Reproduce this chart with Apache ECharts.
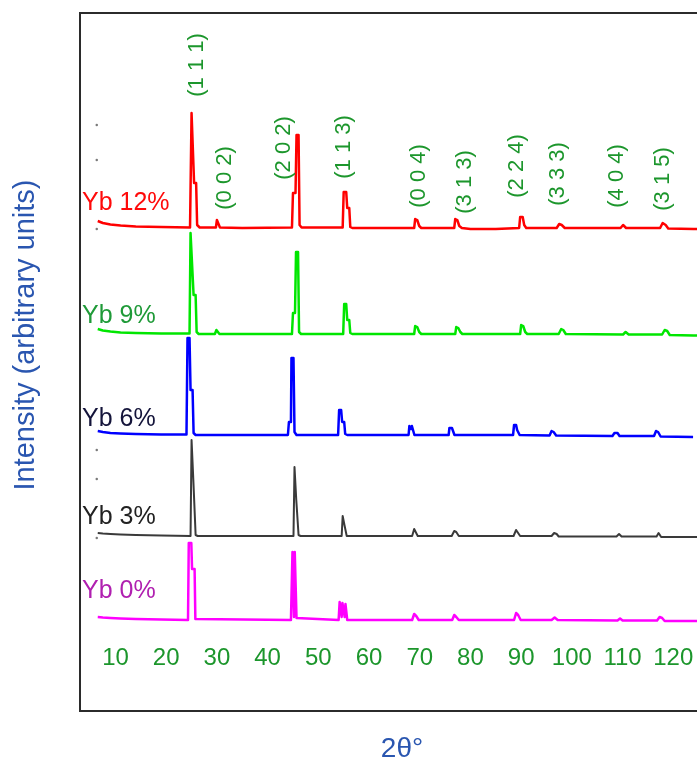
<!DOCTYPE html>
<html>
<head>
<meta charset="utf-8">
<script src="https://cdn.jsdelivr.net/npm/echarts@6/dist/echarts.min.js"></script>
<style>
  html, body { margin: 0; padding: 0; background: #fff; }
  #main { width: 697px; height: 762px; }
</style>
</head>
<body>
<div id="main"></div>
<script>
// XRD patterns of Yb-doped samples, stacked with a vertical offset per sample.
const samples = ['Yb 12%', 'Yb 9%', 'Yb 6%', 'Yb 3%', 'Yb 0%'];
const offsets = [483, 377, 276, 175, 91];
const xTicks = [10, 20, 30, 40, 50, 60, 70, 80, 90, 100, 110, 120];

// [2θ, intensity above the sample's own baseline]
const yb12 = [
  [6.5, 7], [7.5, 5], [9, 3.5], [11, 2.5], [14, 1.5], [19, 1], [24.7, 0.5],
  [25.0, 115], [25.3, 115], [25.5, 45], [25.9, 45], [26.1, 3], [26.6, 0.5],
  [29.8, 0.5], [30.0, 8], [30.3, 8], [30.6, 0.5],
  [35, 0], [44.8, 0.5], [45.0, 35], [45.5, 35], [45.7, 93], [46.1, 93], [46.3, 3], [46.7, 0.5],
  [54.8, 0.5], [55.0, 36], [55.5, 36], [55.7, 20], [56.1, 20], [56.3, 1], [56.7, 0],
  [68.9, 0], [69.1, 9], [69.5, 8], [69.9, 2], [70.3, 0],
  [76.8, 0], [77.0, 9], [77.4, 8], [77.8, 2], [78.3, 0], [80, -1], [85, -1],
  [89.6, 0], [89.8, 11], [90.3, 11], [90.6, 3], [91.0, 0],
  [97.0, 0], [97.5, 4], [98.0, 3], [98.6, 0],
  [109.6, 0], [110.1, 3], [110.7, 0],
  [117.4, 0], [117.9, 5], [118.5, 3], [119.0, -0.5],
  [124, -1], [128, -1]
];
const yb9 = [
  [6.5, 5], [7.5, 3.5], [9, 2.5], [11, 1.5], [14, 1], [19, 0.5], [24.6, 0.5],
  [24.8, 101], [25.1, 101], [25.4, 39], [25.8, 39], [26.0, 2], [26.4, 0],
  [29.6, 0], [29.9, 4], [30.2, 4], [30.5, 0],
  [44.8, 0], [45.0, 21], [45.4, 21], [45.6, 82], [46.0, 82], [46.2, 2], [46.6, 0],
  [54.9, 0], [55.1, 30], [55.5, 30], [55.7, 14], [56.1, 14], [56.3, 1], [56.7, 0],
  [68.9, 0], [69.1, 8], [69.5, 7], [69.9, 2], [70.3, 0],
  [77.0, 0], [77.2, 7], [77.6, 6], [78.0, 2], [78.4, 0], [80.0, 0], [80.3, 1], [80.7, 0],
  [89.8, 0], [90.0, 9], [90.4, 8], [90.8, 2], [91.2, 0],
  [97.4, 0], [97.9, 5], [98.3, 4], [98.8, 0],
  [110.1, -0.5], [110.6, 2], [111.2, -0.5],
  [117.8, -0.5], [118.3, 4], [118.8, 3], [119.3, -1],
  [124, -1.5], [128, -1.5]
];
const yb6 = [
  [6.5, 4], [7.5, 3], [9, 2], [11, 1.5], [14, 1], [19, 0.5], [24.0, 0.5],
  [24.2, 97], [24.6, 97], [24.8, 45], [25.2, 45], [25.4, 2], [25.8, 0],
  [29.3, 0], [29.6, 2], [29.9, 0],
  [44.0, 0], [44.2, 13], [44.6, 13], [44.7, 77], [45.1, 77], [45.3, 3], [45.7, 0],
  [53.9, 0], [54.1, 25], [54.5, 25], [54.7, 13], [55.1, 13], [55.3, 1], [55.7, 0],
  [67.8, 0], [67.95, 9], [68.3, 6], [68.45, 9], [68.8, 8], [68.95, 0],
  [75.7, 0], [75.85, 7], [76.2, 5], [76.35, 7], [76.7, 6], [76.85, 0],
  [88.4, 0], [88.6, 10], [89.0, 10], [89.2, 5], [89.5, 5], [89.7, 0],
  [95.6, -0.5], [96.0, 4], [96.4, 3], [96.9, -0.5],
  [108.0, -1], [108.4, 2], [109.0, 2], [109.4, -1],
  [116.2, -1], [116.6, 4], [117.0, 3], [117.5, -1.5],
  [123.9, -2]
];
const yb3 = [
  [6.5, 3], [7.5, 2.5], [9, 2], [11, 1.5], [14, 1], [19, 0.5], [24.8, 0],
  [25.0, 96], [25.2, 96], [25.35, 56], [25.6, 56], [25.8, 1], [26.2, 0],
  [29.7, 0], [29.9, 1], [30.1, 0],
  [45.1, 0], [45.3, 69], [45.5, 69], [45.65, 36], [45.9, 36], [46.1, 1], [46.5, 0],
  [54.6, 0], [54.8, 20], [55.0, 20], [55.15, 11], [55.4, 11], [55.6, 0],
  [68.5, 0], [68.9, 7], [69.2, 6], [69.6, 0],
  [76.3, 0], [76.8, 5], [77.2, 4], [77.7, 0],
  [88.5, 0], [89.0, 6], [89.3, 5], [89.8, 0],
  [96.0, 0], [96.5, 3], [97.0, 2], [97.4, -0.5],
  [108.8, -0.5], [109.3, 2], [109.8, -0.5],
  [116.7, -0.5], [117.1, 3], [117.6, -1],
  [128, -1]
];
const yb0 = [
  [6.5, 3], [7.5, 2.5], [9, 2], [11, 1.5], [14, 1], [19, 0.5], [24.3, 0],
  [24.45, 77], [24.95, 77], [25.1, 51], [25.6, 51], [25.75, 1], [26.1, 0],
  [44.6, 0], [44.8, 2], [44.9, 68], [45.1, 68], [45.2, 3], [45.35, 68], [45.6, 68], [45.7, 2], [46.0, 0],
  [54.0, 0], [54.2, 18], [54.45, 17], [54.6, 3], [54.75, 17], [55.1, 17], [55.2, 3], [55.35, 16], [55.55, 16], [55.7, 0],
  [68.5, 0], [68.9, 6], [69.3, 4], [69.8, 0],
  [76.4, 0], [76.8, 5], [77.2, 3], [77.7, 0],
  [88.6, 0], [89.0, 7], [89.4, 5], [89.9, 0],
  [96.0, 0], [96.6, 2.5], [97.2, 0],
  [109.0, -0.5], [109.5, 1.5], [110.0, -0.5],
  [116.8, -0.5], [117.3, 3], [117.8, 2], [118.3, -1],
  [128, -1]
];
const patterns = [yb12, yb9, yb6, yb3, yb0];

// Miller indices of the reflections and where their captions sit [2θ, stacked intensity]
const hkl = ['(1 1 1)', '(0 0 2)', '(2 0 2)', '(1 1 3)', '(0 0 4)', '(3 1 3)', '(2 2 4)', '(3 3 3)', '(4 0 4)', '(3 1 5)'];
const hklAt = [[26.0, 646], [31.5, 533], [43.2, 563], [55.0, 564], [69.8, 535], [78.9, 529], [89.1, 545], [97.2, 537], [108.9, 535], [118.0, 532]];

// Sample captions anchored at their left edge [2θ, stacked intensity]
const sampleAt = [[3.3, 508], [3.3, 395], [3.3, 292], [3.3, 194], [3.3, 120]];

// Leftover dotted tick marks from the instrument export
const tickDots = [[6.3, 586], [6.3, 551], [6.3, 482], [6.3, 261], [6.3, 232], [6.3, 173]];

const FONT = '"Liberation Sans", Arial, sans-serif';
const lineColors = ['#ff0000', '#00e600', '#0000ff', '#3a3a3a', '#ff00ff'];
const captionColors = ['#ff0a0a', '#1f9a38', '#14143a', '#222222', '#b020b0'];
const hklColor = '#1c962c';
const titleColor = '#2a56b0';
const hidden = 'rgba(0,0,0,0)';

const lineSeries = patterns.map((pts, i) => ({
  type: 'line',
  name: samples[i],
  data: pts.map(([x, y]) => [x, y + offsets[i]]),
  showSymbol: false,
  silent: true,
  lineStyle: { color: lineColors[i], width: i === 3 ? 2 : 2.5, join: 'round' },
  z: 5 - i
}));

const option = {
  animation: false,
  backgroundColor: '#fff',
  grid: {
    left: 80, right: -27, top: 13, bottom: 51,
    show: true, borderColor: '#2b2b2b', borderWidth: 2,
    containLabel: false, outerBoundsMode: 'none'
  },
  xAxis: {
    type: 'value', min: 3, max: 130,
    name: '2θ°', nameLocation: 'middle', nameGap: 24, nameMoveOverlap: false,
    nameTextStyle: { color: titleColor, fontSize: 28, fontFamily: FONT },
    axisLine: { show: false }, axisTick: { show: false }, splitLine: { show: false },
    axisLabel: { inside: true, margin: 41, customValues: xTicks, color: hklColor, fontSize: 24, fontFamily: FONT }
  },
  yAxis: {
    type: 'value', min: 0, max: 698,
    name: 'Intensity (arbitrary units)', nameLocation: 'middle', nameGap: 40, nameRotate: 90,
    nameTextStyle: { color: titleColor, fontSize: 29, fontFamily: FONT, padding: [0, 0, 0, 54] },
    axisLine: { show: false }, axisTick: { show: false }, axisLabel: { show: false }, splitLine: { show: false }
  },
  series: lineSeries.concat([
    {
      type: 'scatter', silent: true, symbolSize: 1,
      itemStyle: { color: hidden, opacity: 1 },
      data: hkl.map((t, i) => ({ name: t, value: hklAt[i] })),
      label: { show: true, position: 'inside', rotate: 90, formatter: '{b}', color: hklColor, fontSize: 22, fontFamily: FONT },
      z: 10
    },
    {
      type: 'scatter', silent: true, symbolSize: 1,
      itemStyle: { color: hidden, opacity: 1 },
      data: samples.map((t, i) => ({ name: t, value: sampleAt[i], label: { color: captionColors[i] } })),
      label: { show: true, position: 'right', distance: 0, formatter: '{b}', fontSize: 25, fontFamily: FONT },
      z: 10
    },
    {
      type: 'scatter', silent: true, symbolSize: 2.5,
      itemStyle: { color: '#7a7a7a', opacity: 1 },
      data: tickDots, z: 1
    }
  ])
};

const chart = echarts.init(document.getElementById('main'), null, { renderer: 'canvas' });
chart.setOption(option);
</script>
</body>
</html>
